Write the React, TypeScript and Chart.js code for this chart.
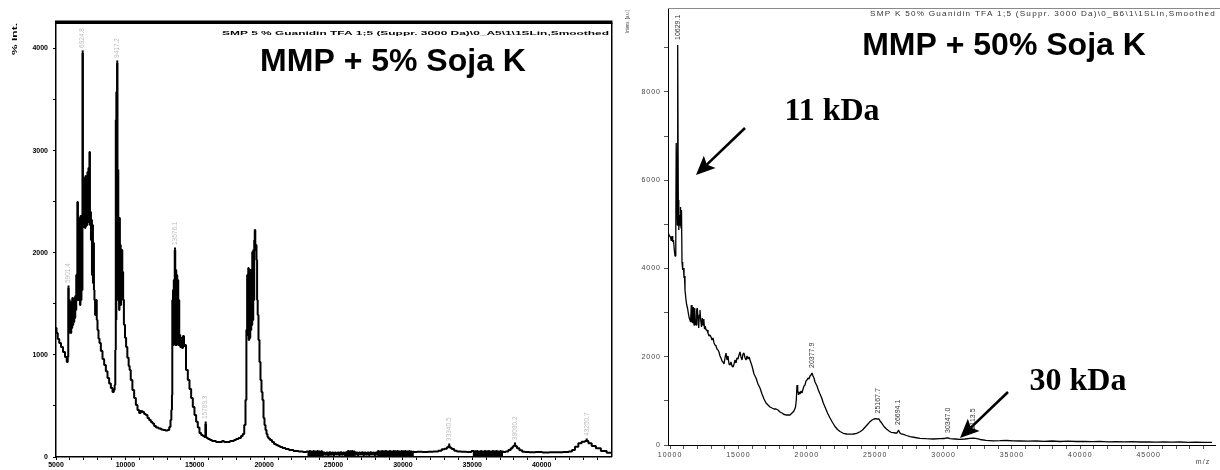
import React, { useEffect, useRef } from 'react';
import { Chart, registerables } from 'chart.js';

Chart.register(...registerables);

const SANS = '"Liberation Sans", Arial, sans-serif';
const SERIF = '"Liberation Serif", "Times New Roman", serif';

// ---------- LEFT SPECTRUM (MMP + 5% Soja K) : [m/z, intensity] ----------
const LEFT_SPECTRUM: [number, number][] = [
  [5000,1263],[5072,1214],[5180,1156],[5288,1117],[5432,1077],[5577,1028],[5721,979],[5829,930],[5865,979],
  [5901,1655],[5937,1214],[5973,1538],[6009,1244],[6045,1489],[6081,1214],[6117,1518],[6153,1263],[6189,1557],[6225,1293],[6261,1538],[6297,1322],[6333,1557],[6369,1361],[6405,1577],[6441,1440],[6477,1783],[6513,1538],[6563,2497],[6600,1538],[6636,2341],[6672,1636],[6708,2223],[6744,1489],[6780,2360],[6816,1538],[6852,2272],[6888,1636],[6924,3957],[6960,2253],[6996,2713],[7032,2272],[7068,2733],[7104,2243],[7140,2752],[7176,2262],[7212,2733],[7248,2272],[7284,2791],[7320,2302],[7356,2831],[7392,2370],[7428,2987],[7464,2272],[7500,2400],[7537,2125],[7573,2321],[7609,1783],[7645,2272],[7681,1704],[7717,2096],[7753,1636],[7789,1538],[7847,1391],[7919,1538],[7955,1342],[8027,1244],[8099,1160],
  [8171,1117],[8294,1039],[8409,960],[8531,900],[8654,840],[8769,774],[8892,720],[9014,676],[9130,637],[9202,657],[9252,706],[9295,1048],
  [9324,3301],[9338,1342],[9360,3575],[9381,1538],[9417,3859],[9446,1734],[9475,2811],[9504,1538],[9533,2321],[9561,1440],[9590,2341],[9619,1538],[9648,2076],[9677,1489],[9706,2027],[9734,1538],[9763,2027],[9792,1587],[9828,1812],[9850,1540],
  [9937,1294],[10009,1167],[10095,1078],[10189,971],[10283,892],[10333,853],[10441,755],[10571,657],[10694,578],[10816,510],[10931,461],[11054,431],[11162,451],[11292,441],[11414,422],[11537,412],[11652,382],[11775,363],[11897,343],[12013,328],[12135,304],[12279,289],[12495,279],[12640,270],[12784,265],[12978,260],[13108,265],[13216,294],[13288,363],[13339,461],[13375,608],
  [13389,1538],[13418,1146],[13447,1636],[13475,1097],[13504,1734],[13540,1146],[13576,2027],[13612,1097],[13648,1832],[13684,1097],[13720,1783],[13756,1146],[13792,1734],[13828,1097],[13864,1538],[13900,1097],[13937,1195],[13973,1077],[14045,1165],[14117,1068],[14189,1185],[14261,1087],[14297,1097],
  [14441,853],[14560,755],[14680,667],[14800,578],[14920,490],[15040,412],[15160,346],[15280,289],[15400,235],[15520,216],[15640,206],[15739,196],[15789,323],[15832,196],[15883,186],[16027,176],[16171,167],[16315,157],[16459,157],[16603,147],[16747,147],[16892,147],[17036,157],[17180,147],[17324,147],[17468,147],[17612,157],[17756,157],[17901,167],[18045,176],[18261,186],[18405,206],[18513,225],[18621,313],[18693,558],[18751,1244],
  [18802,1783],[18838,1195],[18874,1851],[18910,1146],[18946,1783],[18982,1165],[19018,1832],[19054,1244],[19090,1812],[19126,1293],[19162,2008],[19198,1342],[19234,2027],[19270,1538],[19306,2125],[19342,2223],[19386,2027],[19429,2076],[19472,1930],[19515,1538],[19558,1391],[19630,1146],[19702,930],[19774,754],[19846,637],[19918,558],[19991,382],[20063,313],[20135,264],[20207,225],[20279,196],[20351,181],[20495,167],[20639,147],[20783,127],[20928,118],[21072,108],[21216,98],[21432,88],[21648,78],[21937,69],[22297,59],[22657,54],[22945,49],
  [23160,55],[23230,0],[23300,58],[23370,2],[23440,55],[23510,0],[23580,58],[23650,0],[23720,55],[23790,3],[23860,58],[23930,0],[24000,55],[24070,2],[24140,56],
  [24230,20],[24330,45],[24430,22],[24530,44],[24630,18],[24730,46],[24830,22],[24930,44],[25030,20],[25130,45],[25230,24],[25330,44],[25430,20],[25530,46],[25630,22],[25730,44],[25830,20],[25930,46],
  [26000,0],[26070,58],[26140,0],[26210,56],[26280,2],[26350,58],[26420,0],[26490,55],
  [26580,22],[26680,45],[26780,20],[26880,44],[26980,24],[27080,46],[27180,20],[27280,44],[27380,22],[27480,45],[27580,20],[27680,46],[27780,24],[27880,44],[27980,20],[28080,45],[28160,22],
  [28230,58],[28300,0],[28370,55],[28440,2],[28510,58],[28580,0],[28650,56],[28720,0],[28790,58],[28860,3],[28930,55],[29000,0],[29070,58],[29140,0],[29210,55],[29280,2],[29350,58],[29420,0],[29490,56],[29560,0],[29630,58],[29700,2],[29770,55],[29840,0],[29910,58],[29980,0],[30050,56],[30120,3],[30190,58],[30260,0],[30330,55],[30400,0],[30470,58],[30540,2],[30610,55],[30680,0],[30750,52],
  [30850,50],[31200,52],[31600,50],[32000,52],[32400,54],[32700,62],[32900,75],[33100,80],[33250,95],[33340,108],[33430,90],[33600,78],[33800,62],[34000,55],[34400,52],[34800,50],
  [35080,58],[35150,0],[35220,56],[35290,2],[35360,58],[35430,0],[35500,55],[35570,0],[35640,58],[35710,3],[35780,55],[35850,0],[35920,58],[35990,0],[36060,56],[36130,2],[36200,58],[36270,0],[36340,55],[36410,0],[36480,58],[36550,2],[36620,56],[36690,0],[36760,58],[36830,0],[36900,55],[36970,3],[37040,58],[37110,0],[37180,55],
  [37300,50],[37500,55],[37700,68],[37850,85],[37950,100],[38020,112],[38080,118],[38150,105],[38300,85],[38500,65],[38700,52],[38900,48],
  [39300,46],[39800,48],[40300,45],[40800,47],[41300,46],[41800,50],[42100,55],[42280,69],[42525,101],[42765,134],[43000,150],[43250,157],[43490,134],[43730,108],[44090,85],[44450,59],[44925,42],[45000,42],
];

const LEFT_PEAKS = [
  { mz: 5901, v: 1655, text: '5901.4' },
  { mz: 6924, v: 3957, text: '6924.8' },
  { mz: 9417, v: 3859, text: '9417.2' },
  { mz: 13576, v: 2027, text: '13576.1' },
  { mz: 15789, v: 323, text: '15789.3' },
  { mz: 33340, v: 108, text: '33340.5' },
  { mz: 38080, v: 118, text: '38080.2' },
  { mz: 43250, v: 157, text: '43250.7' },
];

const LEFT_X_RANGE = [5000, 45000];
const LEFT_X_LABELS = [5000, 10000, 15000, 20000, 25000, 30000, 35000, 40000];
const LEFT_Y_RANGE = [0, 4250];
const LEFT_Y_LABELS = [0, 1000, 2000, 3000, 4000];
const LEFT_TITLE = 'MMP + 5% Soja K';
const LEFT_HEADER = 'SMP 5 % Guanidin TFA 1;5 (Suppr. 3000 Da)\\0_A5\\1\\1SLin,Smoothed';
const LEFT_Y_TITLE = '% Int.';

// ---------- RIGHT SPECTRUM (MMP + 50% Soja K) : [m/z, intensity] ----------
const RIGHT_SPECTRUM: [number, number][] = [
  [9872,4796],[9960,4735],[10033,4712],[10091,4622],[10143,4735],[10194,4599],[10252,4644],[10311,4418],[10362,4282],[10406,4463],[10435,4939],[10450,6842],[10508,6842],[10530,4984],[10559,9062],[10603,5550],[10640,4871],[10676,5211],[10728,4984],[10764,5392],[10801,4916],[10837,5324],[10874,4146],[10925,3965],[10983,4010],[11020,3783],[11057,3829],[11093,3512],[11166,3285],[11218,3172],[11276,3104],[11335,2990],[11401,2877],[11459,2832],[11503,2787],[11554,3172],[11605,2787],[11656,2764],[11700,3126],[11752,2719],[11803,3104],[11854,2787],[11898,2719],[11949,3058],[11993,3104],[12044,2877],[12095,2651],[12139,2945],[12190,3058],[12241,2832],[12300,2673],[12358,2877],[12410,2719],[12468,2855],[12519,2628],[12578,2696],[12629,2605],[12702,2605],[12775,2537],[12849,2469],[12922,2492],[12995,2447],[13068,2379],[13141,2424],[13214,2311],[13287,2266],[13360,2243],[13434,2175],[13507,2152],[13580,2107],[13653,2016],[13726,1971],[13799,1903],[13872,1880],[13946,1835],[14019,1971],[14092,2084],[14165,1926],[14238,2016],[14311,1835],[14384,1812],[14457,1880],[14531,1790],[14604,1767],[14677,1835],[14750,1926],[14823,1858],[14896,1971],[14969,1948],[15042,2039],[15116,2107],[15189,1994],[15262,1926],[15335,2062],[15408,2084],[15481,1971],[15554,1926],[15627,2016],[15701,1948],[15774,1994],[15847,1926],[15920,1858],[15993,1790],[16066,1699],[16139,1608],[16212,1563],[16286,1518],[16359,1450],[16432,1382],[16578,1291],[16724,1155],[16871,1042],[17017,952],[17163,906],[17310,861],[17456,838],[17602,816],[17748,816],[17894,793],[18041,748],[18187,725],[18333,691],[18480,680],[18626,680],[18772,680],[18918,725],[19064,770],[19174,861],[19233,1019],[19284,1359],[19335,1246],[19394,1133],[19452,1201],[19503,1155],[19577,1223],[19650,1178],[19723,1269],[19796,1337],[19869,1359],[19942,1450],[20015,1473],[20089,1518],[20162,1495],[20235,1563],[20308,1586],[20381,1631],[20454,1563],[20527,1518],[20600,1427],[20674,1382],[20747,1337],[20842,1246],[20966,1155],[21090,1065],[21207,952],[21331,861],[21514,725],[21697,612],[21880,510],[22063,419],[22245,351],[22428,306],[22669,265],[22918,249],[23159,245],[23400,249],[23650,265],[23891,301],[24074,340],[24257,401],[24440,464],[24623,528],[24769,566],[24915,589],[25061,600],[25186,589],[25281,589],[25354,544],[25478,498],[25646,419],[25844,356],[26012,317],[26158,288],[26326,279],[26451,272],[26597,272],[26707,340],[26765,295],[26853,256],[27058,242],[27292,215],[27548,188],[27914,170],[28279,152],[28718,143],[29252,136],[29742,143],[30034,147],[30217,163],[30326,159],[30473,143],[30838,136],[31204,129],[31570,136],[31935,150],[32177,154],[32447,143],[32666,125],[33105,106],[33639,95],[34129,97],[34619,102],[35080,95],[35592,91],[36177,86],[36762,91],[37347,84],[37932,91],[38517,79],[39102,86],[39687,79],[40272,84],[40857,77],[41442,82],[42027,72],[42612,77],[43197,70],[43782,75],[44367,68],[44952,72],[45537,66],[46122,70],[46707,63],[47292,68],[47877,61],[48462,63],[49047,59],[49632,61],
];

const RIGHT_PEAKS = [
  { mz: 10559, v: 9062, text: '10629.1' },
  { mz: 20381, v: 1631, text: '20377.9' },
  { mz: 25186, v: 600, text: '25167.7' },
  { mz: 26707, v: 340, text: '26694.1' },
  { mz: 30326, v: 159, text: '30347.0' },
  { mz: 32177, v: 154, text: '32113.5' },
];

const RIGHT_X_RANGE = [9850, 49850];
const RIGHT_X_LABELS = [10000, 15000, 20000, 25000, 30000, 35000, 40000, 45000];
const RIGHT_Y_RANGE = [0, 9900];
const RIGHT_Y_LABELS = [0, 2000, 4000, 6000, 8000];
const RIGHT_TITLE = 'MMP + 50% Soja K';
const RIGHT_HEADER = 'SMP K 50% Guanidin TFA 1;5 (Suppr. 3000 Da)\\0_B6\\1\\1SLin,Smoothed';
const RIGHT_Y_TITLE = 'Intens. [a.u.]';
const RIGHT_X_TITLE = 'm/z';
const ANNOT_11 = '11 kDa';
const ANNOT_30 = '30 kDa';

// ---------- helpers ----------
function stepTicks(min: number, max: number, step: number) {
  const out: { value: number }[] = [];
  for (let v = Math.ceil(min / step) * step; v <= max + 1e-6; v += step) out.push({ value: v });
  return out;
}

function fitText(ctx: CanvasRenderingContext2D, text: string, x: number, y: number, width: number) {
  const w = ctx.measureText(text).width;
  ctx.save();
  ctx.translate(x, y);
  ctx.scale(width / w, 1);
  ctx.textAlign = 'left';
  ctx.fillText(text, 0, 0);
  ctx.restore();
}

function drawArrow(ctx: CanvasRenderingContext2D, x1: number, y1: number, x2: number, y2: number) {
  const a = Math.atan2(y2 - y1, x2 - x1);
  const len = 19, half = 8.5, notch = 4;
  const bx = x2 - len * Math.cos(a), by = y2 - len * Math.sin(a);
  const nx = x2 - (len - notch) * Math.cos(a), ny = y2 - (len - notch) * Math.sin(a);
  ctx.save();
  ctx.strokeStyle = '#000';
  ctx.fillStyle = '#000';
  ctx.lineWidth = 2.6;
  ctx.beginPath();
  ctx.moveTo(x1, y1);
  ctx.lineTo(nx, ny);
  ctx.stroke();
  ctx.beginPath();
  ctx.moveTo(x2, y2);
  ctx.lineTo(bx - half * Math.sin(a), by + half * Math.cos(a));
  ctx.lineTo(nx, ny);
  ctx.lineTo(bx + half * Math.sin(a), by - half * Math.cos(a));
  ctx.closePath();
  ctx.fill();
  ctx.restore();
}

const leftDecor = {
  id: 'leftDecor',
  afterDraw(chart: any) {
    const ctx: CanvasRenderingContext2D = chart.ctx;
    const { left, right, top, bottom } = chart.chartArea;
    const xs = chart.scales.x, ys = chart.scales.y;
    ctx.save();
    ctx.fillStyle = '#000';
    ctx.fillRect(left - 1, top - 2.5, right - left + 2.5, 3.5);
    ctx.fillRect(right, top, 1.5, bottom - top);

    ctx.font = `bold 6px ${SANS}`;
    ctx.textBaseline = 'middle';
    fitText(ctx, LEFT_HEADER, 222, 33, 387);

    ctx.font = `bold 32px ${SANS}`;
    ctx.textAlign = 'center';
    ctx.textBaseline = 'alphabetic';
    ctx.fillText(LEFT_TITLE, 393, 71);

    ctx.save();
    ctx.translate(15, 55);
    ctx.rotate(-Math.PI / 2);
    ctx.font = `bold 8px ${SANS}`;
    ctx.textBaseline = 'middle';
    fitText(ctx, LEFT_Y_TITLE, 0, 0, 32);
    ctx.restore();

    for (const p of LEFT_PEAKS) {
      const px = xs.getPixelForValue(p.mz);
      const py = ys.getPixelForValue(p.v);
      ctx.fillStyle = '#000';
      ctx.fillRect(px - 1, py - 2.5, 2, 2);
      ctx.save();
      ctx.translate(px, py - 5);
      ctx.rotate(-Math.PI / 2);
      ctx.font = `6.5px ${SANS}`;
      ctx.fillStyle = '#bdbdbd';
      ctx.textAlign = 'left';
      ctx.textBaseline = 'middle';
      ctx.fillText(p.text, 0, 0);
      ctx.restore();
    }
    ctx.restore();
  },
};

const rightDecor = {
  id: 'rightDecor',
  beforeDraw(chart: any) {
    (chart.ctx as any).letterSpacing = '1px';
  },
  afterDraw(chart: any) {
    const ctx: any = chart.ctx;
    const { left, right, top } = chart.chartArea;
    const xs = chart.scales.x, ys = chart.scales.y;
    ctx.save();
    ctx.strokeStyle = '#8a8a8a';
    ctx.lineWidth = 1;
    ctx.beginPath();
    ctx.moveTo(left, top + 0.5);
    ctx.lineTo(600, top + 0.5);
    ctx.stroke();

    ctx.fillStyle = '#333';
    ctx.letterSpacing = '1px';
    ctx.font = `6.5px ${SANS}`;
    ctx.textBaseline = 'middle';
    fitText(ctx, RIGHT_HEADER, 250, 14, 346);

    ctx.font = `7px ${SANS}`;
    ctx.textAlign = 'center';
    ctx.fillStyle = '#444';
    ctx.fillText(RIGHT_X_TITLE, 583, 462);

    ctx.save();
    ctx.translate(7, 33);
    ctx.rotate(-Math.PI / 2);
    ctx.letterSpacing = '0px';
    ctx.font = `6px ${SANS}`;
    ctx.fillStyle = '#444';
    fitText(ctx, RIGHT_Y_TITLE, 0, 0, 23);
    ctx.restore();

    ctx.letterSpacing = '0px';
    for (const p of RIGHT_PEAKS) {
      const px = xs.getPixelForValue(p.mz);
      const py = ys.getPixelForValue(p.v);
      ctx.save();
      ctx.translate(px, py - 5);
      ctx.rotate(-Math.PI / 2);
      ctx.font = `7px ${SANS}`;
      ctx.fillStyle = '#333';
      ctx.textAlign = 'left';
      ctx.textBaseline = 'middle';
      ctx.fillText(p.text, 0, 0);
      ctx.restore();
    }

    ctx.fillStyle = '#000';
    ctx.font = `bold 32px ${SANS}`;
    ctx.textAlign = 'center';
    ctx.textBaseline = 'alphabetic';
    ctx.fillText(RIGHT_TITLE, 384, 55);

    ctx.font = `bold 32px ${SERIF}`;
    ctx.fillText(ANNOT_11, 212, 120);
    ctx.fillText(ANNOT_30, 458, 390);

    drawArrow(ctx, 125, 128, 76, 175);
    drawArrow(ctx, 388, 392, 340, 438);
    ctx.restore();
  },
};

function leftConfig(): any {
  return {
    type: 'line',
    data: {
      datasets: [{
        data: LEFT_SPECTRUM.map(([x, y]) => ({ x, y })),
        borderColor: '#000',
        borderWidth: 2,
        pointRadius: 0,
        stepped: 'middle',
        borderJoinStyle: 'bevel',
        fill: false,
      }],
    },
    options: {
      responsive: false,
      animation: false,
      devicePixelRatio: 1,
      events: [],
      layout: { padding: { left: 0, right: 9, top: 23, bottom: 0 }, autoPadding: false },
      plugins: { legend: { display: false }, tooltip: { enabled: false } },
      scales: {
        x: {
          type: 'linear',
          min: LEFT_X_RANGE[0],
          max: LEFT_X_RANGE[1],
          afterFit: (s: any) => { s.height = 13; },
          afterBuildTicks: (s: any) => { s.ticks = stepTicks(LEFT_X_RANGE[0], LEFT_X_RANGE[1] - 1, 1000); },
          ticks: {
            autoSkip: false, maxRotation: 0, minRotation: 0, padding: 1, color: '#000',
            font: { size: 7, weight: 'bold', family: SANS },
            callback: (v: number) => (LEFT_X_LABELS.includes(v) ? String(v) : ''),
          },
          grid: { display: true, drawOnChartArea: false, drawTicks: true, tickLength: 3, tickColor: '#000', tickWidth: 1 },
          border: { display: true, color: '#000', width: 1.5 },
        },
        y: {
          type: 'linear',
          min: LEFT_Y_RANGE[0],
          max: LEFT_Y_RANGE[1],
          afterFit: (s: any) => { s.width = 56; },
          afterBuildTicks: (s: any) => { s.ticks = stepTicks(0, 4000, 500); },
          ticks: {
            autoSkip: false, padding: 5, color: '#000',
            font: { size: 7, weight: 'bold', family: SANS },
            callback: (v: number) => (LEFT_Y_LABELS.includes(v) ? String(v) : ''),
          },
          grid: { display: true, drawOnChartArea: false, drawTicks: true, tickLength: 3, tickColor: '#000', tickWidth: 1 },
          border: { display: true, color: '#000', width: 1.5 },
        },
      },
    },
    plugins: [leftDecor],
  };
}

function rightConfig(): any {
  return {
    type: 'line',
    data: {
      datasets: [{
        data: RIGHT_SPECTRUM.map(([x, y]) => ({ x, y })),
        borderColor: '#000',
        borderWidth: 1.3,
        pointRadius: 0,
        borderJoinStyle: 'bevel',
        fill: false,
      }],
    },
    options: {
      responsive: false,
      animation: false,
      devicePixelRatio: 1,
      events: [],
      layout: { padding: { left: 0, right: 5, top: 8, bottom: 0 }, autoPadding: false },
      plugins: { legend: { display: false }, tooltip: { enabled: false } },
      scales: {
        x: {
          type: 'linear',
          min: RIGHT_X_RANGE[0],
          max: RIGHT_X_RANGE[1],
          afterFit: (s: any) => { s.height = 25; },
          afterBuildTicks: (s: any) => { s.ticks = stepTicks(10000, 49000, 1000); },
          ticks: {
            autoSkip: false, maxRotation: 0, minRotation: 0, padding: 2, color: '#444',
            font: { size: 7, family: SANS },
            callback: (v: number) => (RIGHT_X_LABELS.includes(v) ? String(v) : ''),
          },
          grid: { display: true, drawOnChartArea: false, drawTicks: true, tickLength: 4, tickColor: '#555', tickWidth: 1 },
          border: { display: true, color: '#000', width: 1 },
        },
        y: {
          type: 'linear',
          min: RIGHT_Y_RANGE[0],
          max: RIGHT_Y_RANGE[1],
          afterFit: (s: any) => { s.width = 48; },
          afterBuildTicks: (s: any) => { s.ticks = stepTicks(0, 9000, 1000); },
          ticks: {
            autoSkip: false, padding: 3, color: '#444',
            font: { size: 7, family: SANS },
            callback: (v: number) => (RIGHT_Y_LABELS.includes(v) ? String(v) : ''),
          },
          grid: { display: true, drawOnChartArea: false, drawTicks: true, tickLength: 4, tickColor: '#555', tickWidth: 1 },
          border: { display: true, color: '#000', width: 1 },
        },
      },
    },
    plugins: [rightDecor],
  };
}

export default function App() {
  const leftRef = useRef<HTMLCanvasElement>(null);
  const rightRef = useRef<HTMLCanvasElement>(null);

  useEffect(() => {
    document.body.style.margin = '0';
    document.body.style.background = '#fff';
    const c1 = new Chart(leftRef.current as HTMLCanvasElement, leftConfig());
    const c2 = new Chart(rightRef.current as HTMLCanvasElement, rightConfig());
    return () => {
      c1.destroy();
      c2.destroy();
    };
  }, []);

  return (
    <div style={{ position: 'relative', width: 1220, height: 470, background: '#fff', overflow: 'hidden' }}>
      <canvas ref={leftRef} width={620} height={470} style={{ position: 'absolute', left: 0, top: 0, width: 620, height: 470 }} />
      <canvas ref={rightRef} width={600} height={470} style={{ position: 'absolute', left: 620, top: 0, width: 600, height: 470 }} />
    </div>
  );
}
